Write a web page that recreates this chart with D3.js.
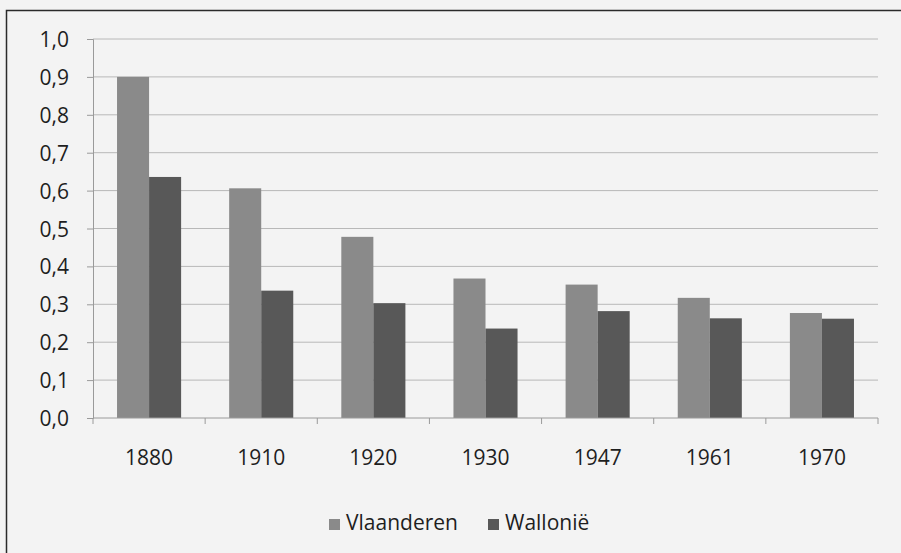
<!DOCTYPE html>
<html>
<head>
<meta charset="utf-8">
<script src="https://cdn.jsdelivr.net/npm/d3@7"></script>
<style>
  body { margin: 0; background: #f3f3f3; }
  svg { display: block; }
  text { font-family: "Open Sans", "DejaVu Sans", sans-serif; fill: #1e1e1e; }
</style>
</head>
<body>
<svg id="chart" width="901" height="553"></svg>
<script>
"use strict";

// chart data
const years = ["1880", "1910", "1920", "1930", "1947", "1961", "1970"];
const series = ["Vlaanderen", "Wallonië"];
const vlaanderen = [0.90, 0.606, 0.478, 0.368, 0.352, 0.317, 0.277];
const wallonie = [0.636, 0.336, 0.303, 0.236, 0.282, 0.263, 0.262];
const yTicks = [0, 0.1, 0.2, 0.3, 0.4, 0.5, 0.6, 0.7, 0.8, 0.9, 1.0];
const colors = ["#8a8a8a", "#585858"];

const svg = d3.select("#chart");

// outer frame (left and top visible)
svg.append("path")
    .attr("d", "M6.5,553 L6.5,10.5 L901,10.5")
    .attr("fill", "none")
    .attr("stroke", "#2a2a2a")
    .attr("stroke-width", 1.5);

const margin = { left: 93, right: 23, top: 39, bottom: 135 };
const width = 901 - margin.left - margin.right;
const height = 553 - margin.top - margin.bottom;

const g = svg.append("g")
    .attr("transform", `translate(${margin.left},${margin.top})`);

const x = d3.scaleBand().domain(years).range([0, width]).paddingInner(0).paddingOuter(0);
const x1 = d3.scaleBand().domain(series).range([0, x.bandwidth()]).paddingInner(0).paddingOuter(0.75);
const y = d3.scaleLinear().domain([0, 1]).range([height, 0]);

// gridlines
g.append("g")
    .selectAll("line")
    .data(yTicks.slice(1))
    .enter()
    .append("line")
    .attr("x1", 0)
    .attr("x2", width)
    .attr("y1", d => y(d))
    .attr("y2", d => y(d))
    .attr("stroke", "#b8b8b8")
    .attr("stroke-width", 1);

// y axis
const yAxis = g.append("g")
    .call(d3.axisLeft(y)
        .tickValues(yTicks)
        .tickSize(6)
        .tickPadding(18)
        .tickFormat(d => d3.format(".1f")(d).replace(".", ",")));
yAxis.select(".domain").attr("stroke", "#9a9a9a");
yAxis.selectAll(".tick line").attr("stroke", "#9a9a9a");
yAxis.selectAll("text")
    .style("font-size", "21px")
    .attr("fill", "#1e1e1e")
    .attr("dy", "0.36em");

// bars
const rows = years.map((yr, i) => ({ year: yr, values: [vlaanderen[i], wallonie[i]] }));
const groups = g.append("g")
    .selectAll("g")
    .data(rows)
    .enter()
    .append("g")
    .attr("transform", d => `translate(${x(d.year)},0)`);

groups.selectAll("rect")
    .data(d => d.values.map((v, j) => ({ key: series[j], value: v, j: j })))
    .enter()
    .append("rect")
    .attr("x", d => x1(d.key))
    .attr("width", x1.bandwidth())
    .attr("y", d => y(d.value))
    .attr("height", d => height - y(d.value))
    .attr("fill", d => colors[d.j]);

// x axis
const xAxisG = g.append("g")
    .attr("transform", `translate(0,${height})`);
xAxisG.append("line")
    .attr("x1", 0).attr("x2", width)
    .attr("stroke", "#9a9a9a");
xAxisG.selectAll(".tk")
    .data(d3.range(years.length + 1))
    .enter()
    .append("line")
    .attr("x1", i => i * x.step())
    .attr("x2", i => i * x.step())
    .attr("y1", 0)
    .attr("y2", 6)
    .attr("stroke", "#9a9a9a");
xAxisG.selectAll("text")
    .data(years)
    .enter()
    .append("text")
    .attr("x", d => x(d) + x.bandwidth() / 2)
    .attr("y", 47)
    .attr("text-anchor", "middle")
    .style("font-size", "21px")
    .text(d => d);

// legend
const legend = svg.append("g").attr("transform", "translate(329,530)");
const legendPos = [0, 159];
series.forEach((s, i) => {
    const lg = legend.append("g").attr("transform", `translate(${legendPos[i]},0)`);
    lg.append("rect")
        .attr("x", 0).attr("y", -11)
        .attr("width", 11).attr("height", 11)
        .attr("fill", colors[i]);
    lg.append("text")
        .attr("x", 17)
        .attr("y", 0)
        .style("font-size", "21px")
        .text(s);
});
</script>
</body>
</html>
